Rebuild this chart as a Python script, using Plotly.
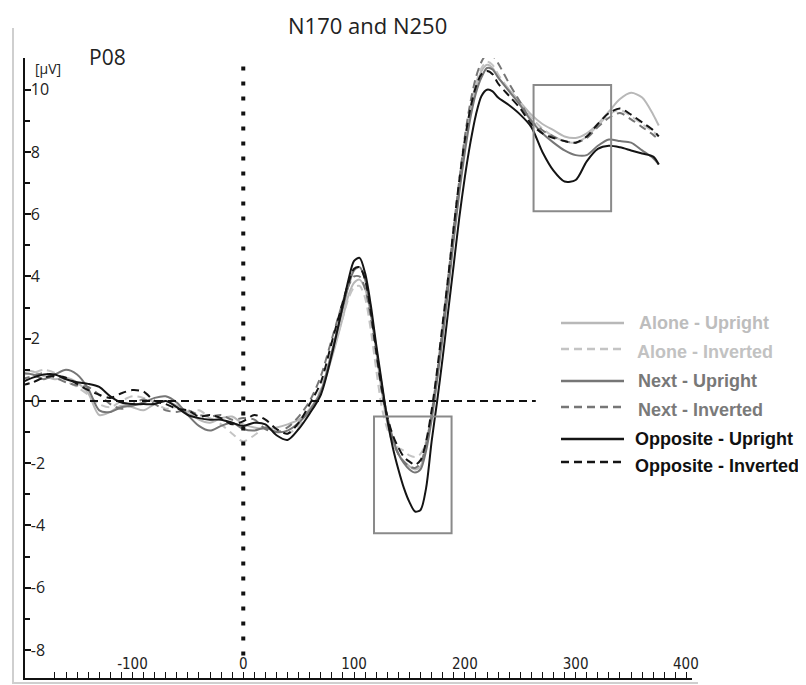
import plotly.graph_objects as go

# ---------------- data ----------------
time_ms = [-200, -190, -180, -170, -160, -150, -140, -130, -120, -110, -100, -90, -80, -70, -60, -50,
           -40, -30, -20, -10, 0, 10, 20, 30, 40, 50, 60, 70, 80, 90, 95, 100, 105, 110, 115, 120,
           125, 130, 135, 140, 145, 150, 155, 160, 165, 170, 175, 180, 185, 190, 195, 200, 205, 210,
           215, 220, 225, 230, 240, 250, 260, 270, 280, 290, 300, 310, 320, 330, 340, 350, 360, 370, 375]

alone_upright = [1.0, 0.95, 0.8, 0.7, 0.75, 0.6, 0.25, -0.45, -0.35, -0.15, -0.2, -0.3, -0.1, 0.0, -0.15, -0.35,
                 -0.6, -0.7, -0.55, -0.5, -0.75, -0.85, -0.9, -0.85, -0.75, -0.6, -0.25, 0.3, 1.4, 2.7, 3.4, 3.8, 3.9, 3.6, 2.8, 1.6,
                 0.3, -0.7, -1.3, -1.7, -1.95, -2.1, -2.2, -2.1, -1.5, -0.5, 0.7, 2.1, 3.7, 5.3, 6.8, 8.2, 9.3, 10.1,
                 10.6, 10.8, 10.7, 10.4, 10.0, 9.6, 9.2, 8.9, 8.7, 8.5, 8.45, 8.6, 8.9, 9.3, 9.7, 9.9, 9.75, 9.2, 8.85]

alone_inverted = [0.85, 0.9, 1.0, 0.9, 0.65, 0.45, 0.2, -0.1, -0.2, 0.0, 0.15, 0.1, -0.05, -0.25, -0.2, -0.4,
                  -0.3, -0.55, -0.75, -1.05, -1.3, -1.1, -0.85, -0.95, -1.05, -0.8, -0.35, 0.4, 1.5, 2.7, 3.3, 3.65, 3.7, 3.3, 2.3, 1.0,
                  -0.2, -0.9, -1.3, -1.5, -1.6, -1.75, -1.8, -1.7, -1.3, -0.4, 0.9, 2.3, 3.8, 5.4, 6.9, 8.3, 9.4, 10.2,
                  10.7, 10.9, 10.8, 10.5, 10.0, 9.55, 9.1, 8.75, 8.5, 8.35, 8.3, 8.5, 8.85, 9.2, 9.35, 9.15, 8.9, 8.65, 8.5]

next_upright = [0.9, 0.85, 0.7, 0.85, 1.0, 0.85, 0.4, -0.3, -0.35, -0.2, -0.15, -0.05, 0.1, 0.15, -0.05, -0.45,
                -0.8, -0.95, -0.8, -0.7, -0.9, -0.95, -0.85, -1.0, -0.95, -0.7, -0.3, 0.3, 1.6, 3.0, 3.7, 4.2, 4.3, 3.9, 2.9, 1.7,
                0.5, -0.5, -1.2, -1.7, -2.0, -2.2, -2.3, -2.2, -1.6, -0.6, 0.7, 2.1, 3.6, 5.2, 6.7, 8.0, 9.1, 9.9,
                10.4, 10.7, 10.65, 10.4, 9.95, 9.5, 9.0, 8.6, 8.3, 8.05, 7.9, 7.9, 8.2, 8.4, 8.35, 8.3, 8.05, 7.8, 7.6]

next_inverted = [0.7, 0.8, 0.9, 0.75, 0.6, 0.5, 0.45, 0.2, -0.1, -0.25, -0.1, 0.05, -0.1, -0.3, -0.35, -0.3,
                 -0.45, -0.5, -0.45, -0.6, -0.55, -0.6, -0.9, -1.0, -0.85, -0.5, 0.0, 0.8, 2.0, 3.2, 3.7, 4.0, 4.0, 3.6, 2.7, 1.5,
                 0.3, -0.6, -1.3, -1.7, -1.95, -2.1, -2.15, -2.0, -1.4, -0.4, 0.9, 2.4, 4.0, 5.6, 7.1, 8.5, 9.6, 10.4,
                 10.9, 11.15, 11.1, 10.85, 10.2, 9.6, 9.0, 8.7, 8.5, 8.35, 8.3, 8.45, 8.8, 9.1, 9.25, 9.05, 8.8, 8.55, 8.4]

opposite_upright = [0.6, 0.75, 0.85, 0.85, 0.7, 0.6, 0.55, 0.45, 0.15, -0.05, -0.1, -0.1, -0.1, 0.0, -0.2, -0.45,
                    -0.55, -0.6, -0.6, -0.7, -0.8, -0.7, -0.75, -1.1, -1.25, -0.9, -0.4, 0.2, 1.5, 3.1, 3.9, 4.5, 4.6, 4.1, 3.1, 1.8,
                    0.6, -0.6, -1.5, -2.2, -2.8, -3.25, -3.55, -3.5, -2.8, -1.3, 0.0, 1.4, 2.9, 4.4, 5.9, 7.2, 8.3, 9.2,
                    9.8, 10.0, 9.95, 9.75, 9.5, 9.2, 8.8, 8.0, 7.4, 7.05, 7.1, 7.7, 8.1, 8.2, 8.15, 8.05, 7.95, 7.85, 7.6]

opposite_inverted = [0.5, 0.6, 0.75, 0.8, 0.75, 0.55, 0.35, 0.2, 0.1, 0.25, 0.35, 0.3, 0.0, -0.1, -0.25, -0.3,
                     -0.5, -0.45, -0.55, -0.75, -0.65, -0.45, -0.6, -0.9, -1.05, -0.7, -0.1, 0.6, 1.9, 3.2, 3.8, 4.25, 4.3, 3.9, 2.9, 1.6,
                     0.4, -0.5, -1.1, -1.5, -1.8, -1.95, -2.05, -1.9, -1.3, -0.3, 1.0, 2.5, 4.0, 5.6, 7.1, 8.4, 9.4, 10.1,
                     10.5, 10.6, 10.5, 10.2, 9.8, 9.4, 8.9, 8.6, 8.45, 8.35, 8.3, 8.5, 8.9, 9.25, 9.4, 9.2, 8.95, 8.7, 8.5]

series_names = ["Alone - Upright", "Alone - Inverted", "Next - Upright",
                "Next - Inverted", "Opposite - Upright", "Opposite - Inverted"]
series_values = [alone_upright, alone_inverted, next_upright,
                 next_inverted, opposite_upright, opposite_inverted]

x_tick_values = [-100, 0, 100, 200, 300]
x_tick_labels = ["-100", "0", "100", "200", "300"]
x_edge_tick_value = 400          # label drawn at the very end of the axis
x_edge_tick_label = "400"
y_tick_values = [-8, -6, -4, -2, 0, 2, 4, 6, 8, 10]
y_tick_labels = ["-8", "-6", "-4", "-2", "0", "2", "4", "6", "8", "10"]

# analysis windows (ms, µV)
n170_window = (118, 188, -4.25, -0.5)
n250_window = (262, 332, 6.1, 10.15)

# ---------------- styles ----------------
line_colors = ["#b8b8b8", "#c4c4c4", "#767676", "#767676", "#141414", "#141414"]
text_colors = ["#bdbdbd", "#c2c2c2", "#787878", "#7a7a7a", "#111111", "#111111"]
dashes = ["solid", "8px,5px", "solid", "8px,5px", "solid", "8px,5px"]
x_tick_font = dict(family="Liberation Sans Narrow, DejaVu Sans Condensed, Open Sans", size=15, color="#222")

# page body has an 8px margin, so the figure is sized/offset to compensate
OFF = 8
W, H = 806 - OFF, 685 - OFF
PLOT_L, PLOT_R, PLOT_T, PLOT_B = 25, 692, 58, 678   # plot edges in reference pixels
L = PLOT_L - OFF
T = PLOT_T - OFF
PW, PH = PLOT_R - PLOT_L, PLOT_B - PLOT_T
R = W - L - PW
B = H - T - PH


def px_x(p):
    return (p - PLOT_L) / PW


def px_y(p):
    return (PLOT_B - p) / PH


fig = go.Figure()
for name, vals, col, dsh in zip(series_names, series_values, line_colors, dashes):
    fig.add_trace(go.Scatter(x=time_ms, y=vals, mode="lines", name=name,
                             line=dict(color=col, width=2, dash=dsh, shape="spline", smoothing=0.8),
                             showlegend=False))

shapes = []
# zero baseline (dashed)
shapes.append(dict(type="line", xref="x", yref="y", x0=-197, x1=264, y0=0, y1=0,
                   line=dict(color="#111", width=2, dash="8px,5px")))
# stimulus onset (dotted)
shapes.append(dict(type="line", xref="x", yref="y", x0=0, x1=0, y0=10.75, y1=-8.5,
                   line=dict(color="#111", width=4, dash="4px,11px")))
# windows
for (x0, x1, y0, y1) in (n170_window, n250_window):
    shapes.append(dict(type="rect", xref="x", yref="y", x0=x0, x1=x1, y0=y0, y1=y1,
                       line=dict(color="#8a8a8a", width=2), fillcolor="rgba(0,0,0,0)"))
# light frame
shapes.append(dict(type="line", xref="paper", yref="paper", x0=px_x(13), x1=px_x(13),
                   y0=px_y(28), y1=px_y(683), line=dict(color="#cfcfcf", width=2)))
shapes.append(dict(type="line", xref="paper", yref="paper", x0=px_x(12), x1=px_x(698),
                   y0=px_y(683), y1=px_y(683), line=dict(color="#cfcfcf", width=2)))

annotations = []
# manual legend
legend_line_y = [323, 349, 381, 407, 439, 462]
legend_text_y = [323, 352, 381, 410, 439, 466]
legend_text_x = [637, 635, 636, 636, 633, 633]
for i, name in enumerate(series_names):
    shapes.append(dict(type="line", xref="paper", yref="paper", x0=px_x(561), x1=px_x(624),
                       y0=px_y(legend_line_y[i]), y1=px_y(legend_line_y[i]),
                       line=dict(color=line_colors[i], width=2.5, dash=dashes[i])))
    annotations.append(dict(xref="paper", yref="paper", x=px_x(legend_text_x[i]), y=px_y(legend_text_y[i]),
                            text="<b>%s</b>" % name, showarrow=False, xanchor="left", yanchor="middle",
                            font=dict(family="Liberation Sans, Arial", size=18, color=text_colors[i])))

# end-of-axis tick label (would be clipped as an inside tick label)
annotations.append(dict(xref="x", yref="paper", x=x_edge_tick_value, y=px_y(664), text=x_edge_tick_label,
                        showarrow=False, xanchor="center", yanchor="middle", font=x_tick_font))

annotations.append(dict(xref="paper", yref="paper", x=px_x(367), y=px_y(9), text="N170 and N250",
                        showarrow=False, xanchor="center", yanchor="top", borderpad=0,
                        font=dict(family="Open Sans", size=22, color="#222")))
annotations.append(dict(xref="paper", yref="paper", x=px_x(87), y=px_y(57), text="P08",
                        showarrow=False, xanchor="left", yanchor="middle",
                        font=dict(family="Open Sans", size=21, color="#222")))
annotations.append(dict(xref="paper", yref="paper", x=px_x(33), y=px_y(69), text="[µV]",
                        showarrow=False, xanchor="left", yanchor="middle",
                        font=dict(family="Open Sans", size=14, color="#222")))

fig.update_layout(
    width=W, height=H,
    margin=dict(l=L, r=R, t=T, b=B),
    paper_bgcolor="white", plot_bgcolor="white",
    shapes=shapes, annotations=annotations,
    showlegend=False,
)
fig.update_xaxes(range=[-197, 405], showgrid=False, zeroline=False,
                 showline=True, linecolor="#111", linewidth=2,
                 ticks="inside", ticklen=6, tickwidth=1, tickcolor="#111",
                 tickvals=x_tick_values + [x_edge_tick_value], ticktext=x_tick_labels + [""],
                 ticklabelposition="inside",
                 tickfont=x_tick_font,
                 minor=dict(dtick=10, tick0=0, ticks="inside", ticklen=6, tickcolor="#111", showgrid=False))
fig.update_yaxes(range=[-8.9, 11.02], showgrid=False, zeroline=False,
                 showline=True, linecolor="#111", linewidth=2,
                 ticks="inside", ticklen=6, tickwidth=1.5, tickcolor="#111",
                 tickvals=y_tick_values, ticktext=y_tick_labels,
                 ticklabelposition="inside",
                 tickfont=dict(family="Open Sans", size=16, color="#222"),
                 minor=dict(dtick=1, tick0=0, ticks="inside", ticklen=5, tickcolor="#111", showgrid=False))

fig.write_html("out.html")
